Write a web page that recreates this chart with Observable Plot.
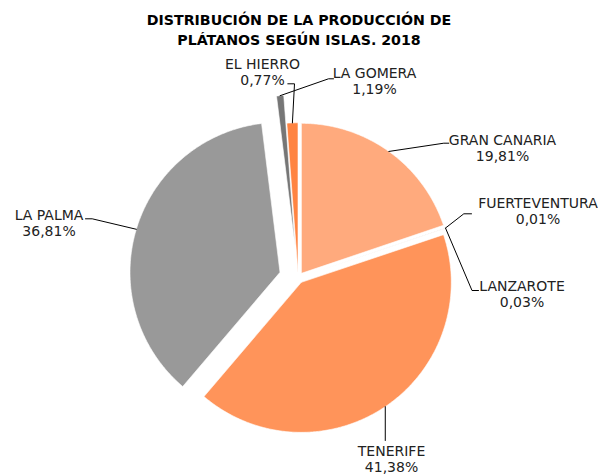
<!DOCTYPE html>
<html><head><meta charset="utf-8">
<script src="https://cdn.jsdelivr.net/npm/d3@7"></script>
<script src="https://cdn.jsdelivr.net/npm/@observablehq/plot@0.6"></script>
<style>
body{margin:0;background:#fff;font-family:"DejaVu Sans",Verdana,sans-serif;}
#title{width:598px;height:50px;box-sizing:border-box;padding-top:10px;text-align:center;font-weight:bold;font-size:14.2px;line-height:20px;color:#000;}
</style></head><body>
<div id="title">DISTRIBUCIÓN DE LA PRODUCCIÓN DE<br>PLÁTANOS SEGÚN ISLAS. 2018</div>
<div id="chart"></div>
<script>
// ---- data ----
const islands = ["GRAN CANARIA","FUERTEVENTURA","LANZAROTE","TENERIFE","LA PALMA","EL HIERRO","LA GOMERA"];
const shares = [19.81, 0.01, 0.03, 41.38, 36.81, 0.77, 1.19];
const colors = ["#FFAA7D","#C9C9C9","#C8A58A","#FF945A","#999999","#767676","#FF8442"];

// ---- layout (pixel space) ----
const center = {x: 297.7, y: 277.3};
const radius = 150;
const explode = [5.5, 5.5, 5.5, 5.5, 19, 33, 5];
// label block centres and leader lines: [slice the leader starts at, elbow..., end]
const labelPos = [
  {x: 502, y: 147.5}, {x: 537.5, y: 210}, {x: 521.5, y: 293.5},
  {x: 391, y: 458.5}, {x: 48.5, y: 222}, {x: 262, y: 71}, {x: 374, y: 80.5}
];
const leaders = [
  {from: 0, pts: [[443.3,142.7],[448.3,142.7]]},
  {from: 1, pts: [[463.3,213.3],[471,213.3]]},
  {from: 2, pts: [[471.5,290],[478,290]]},
  {from: 3, pts: [[null,440]]},
  {from: 4, pts: [[91.7,218.3],[85,218.3]]},
  {from: 6, pts: [[294,83.3],[287.3,83.3]]},
  {from: 5, pts: [[328,78.3],[333,78.3]]}
];

const fmt = v => d3.format(".2f")(v).replace(".", ",") + "%";
const arcs = d3.pie().sort(null).value(d => d)(shares);

const slicePts = [];
const anchors = [];
arcs.forEach((a, i) => {
  const mid = (a.startAngle + a.endAngle) / 2;
  const cx = center.x + explode[i] * Math.sin(mid);
  const cy = center.y - explode[i] * Math.cos(mid);
  const pts = [[cx, cy]];
  const n = Math.max(2, Math.ceil((a.endAngle - a.startAngle) / 0.01));
  for (let k = 0; k <= n; k++) {
    const t = a.startAngle + (a.endAngle - a.startAngle) * k / n;
    pts.push([cx + radius * Math.sin(t), cy - radius * Math.cos(t)]);
  }
  pts.push([cx, cy]);
  pts.forEach(p => slicePts.push({name: islands[i], color: colors[i], x: p[0], y: p[1]}));
  anchors.push([cx + radius * Math.sin(mid), cy - radius * Math.cos(mid)]);
});

const leaderPts = [];
leaders.forEach((l, j) => {
  const a = anchors[l.from];
  leaderPts.push({id: j, x: a[0], y: a[1]});
  l.pts.forEach(p => leaderPts.push({id: j, x: p[0] == null ? a[0] : p[0], y: p[1]}));
});

const labels = islands.map((name, i) => ({
  text: name + "\n" + fmt(shares[i]), x: labelPos[i].x, y: labelPos[i].y
}));

const chart = Plot.plot({
  width: 598, height: 424, margin: 0,
  x: {domain: [0, 598], range: [0, 598], axis: null},
  y: {domain: [50, 474], range: [0, 424], axis: null},
  color: {type: "identity"},
  style: {fontFamily: "'DejaVu Sans', Verdana, sans-serif", background: "#fff"},
  marks: [
    Plot.line(slicePts, {x: "x", y: "y", z: "name", fill: "color", stroke: "white", strokeWidth: 0.6, curve: "linear"}),
    Plot.line(leaderPts, {x: "x", y: "y", z: "id", stroke: "black", strokeWidth: 1}),
    Plot.text(labels, {x: "x", y: "y", text: "text", fontSize: 14, lineHeight: 1.165, textAnchor: "middle", fill: "#222"})
  ]
});
document.getElementById("chart").appendChild(chart);
</script>
</body></html>
